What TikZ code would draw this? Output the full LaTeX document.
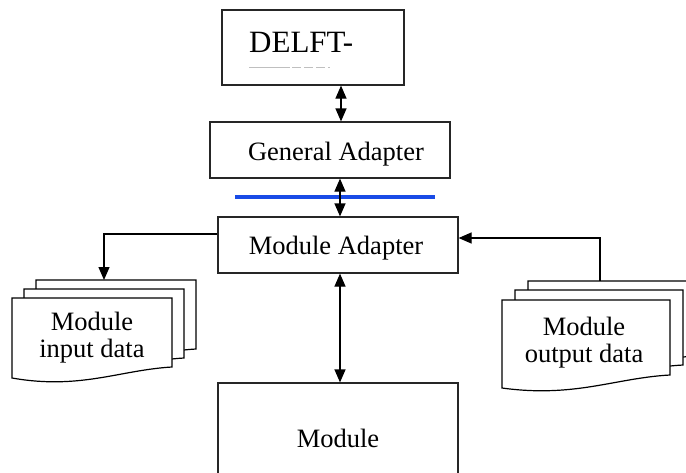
\documentclass[tikz,border=0pt]{standalone}
\usepackage{fontspec}
\setmainfont{Liberation Serif}
\usetikzlibrary{arrows.meta}
\definecolor{lineblue}{RGB}{25,75,230}
\tikzset{
  boxnode/.style={draw=black!85, line width=1.2pt, rectangle, inner sep=0pt},
  lbl/.style={font=\fontsize{26.5}{27}\selectfont, align=center, inner sep=0pt},
  conn/.style={line width=1.2pt, draw=black},
  tri/.tip={Triangle[length=13pt,width=11pt]},
  docpage/.style={draw=black, line width=1.2pt, fill=white},
}
\begin{document}
\begin{tikzpicture}[x=1pt,y=-1pt]
\useasboundingbox (0,0) rectangle (686,472);
\clip (0,0) rectangle (686,472);

% boxes
\node[boxnode, minimum width=182pt, minimum height=75pt] (delft) at (313,47.5) {};
\node[font=\fontsize{31}{33}\selectfont, anchor=base west, inner sep=0pt] (delfttext) at (249,52) {DELFT-};
\draw[black!25, line width=0.8pt] (249,67) -- (290,67);
\draw[black!25, line width=0.8pt, dash pattern=on 9pt off 3pt] (292,67) -- (330,67);

\node[boxnode, minimum width=240pt, minimum height=56pt] (ga) at (330,150) {};
\node[lbl] (gatext) at (336,154) {General Adapter};
\node[boxnode, minimum width=240pt, minimum height=56pt] (ma) at (338,245) {};
\node[lbl] (matext) at (336,248) {Module Adapter};
\node[boxnode, minimum width=240pt, minimum height=110pt, lbl] (mod) at (338,438) {Module};

% blue separator
\draw[lineblue, line width=3.5pt] (235,197) -- (435,197);

% vertical connectors
\coordinate (axisA) at (341,0);
\coordinate (axisB) at (340,0);
\draw[conn, tri-tri] (delft.south -| axisA) -- (ga.north -| axisA);
\draw[conn, tri-tri] (ga.south -| axisB) -- (ma.north -| axisB);
\draw[conn, tri-tri] (ma.south -| axisB) -- (mod.north -| axisB);

% left document stack (input data)
\foreach \dx/\dy in {24/-18, 12/-9, 0/0}{
  \draw[docpage, shift={(\dx,\dy)}] (12,298) -- (172,298) -- (172,367)
     .. controls (120,370) and (80,390) .. (12,378) -- cycle;
}
\coordinate (intop) at (104,280);
\node[lbl] (indata) at (92,338) {Module\\input data};

% right document stack (output data)
\foreach \dx/\dy in {26/-19, 13/-10, 0/0}{
  \draw[docpage, shift={(\dx,\dy)}] (502,300) -- (670,300) -- (670,375)
     .. controls (615,378) and (575,398) .. (502,388) -- cycle;
}
\coordinate (outtop) at (600,281);
\node[lbl] (outdata) at (584,343) {Module\\output data};

% side connectors
\draw[conn, -tri] ([yshift=11pt]ma.west) -| (intop);
\draw[conn, -tri] (outtop) |- ([yshift=7pt]ma.east);
\end{tikzpicture}
\end{document}
